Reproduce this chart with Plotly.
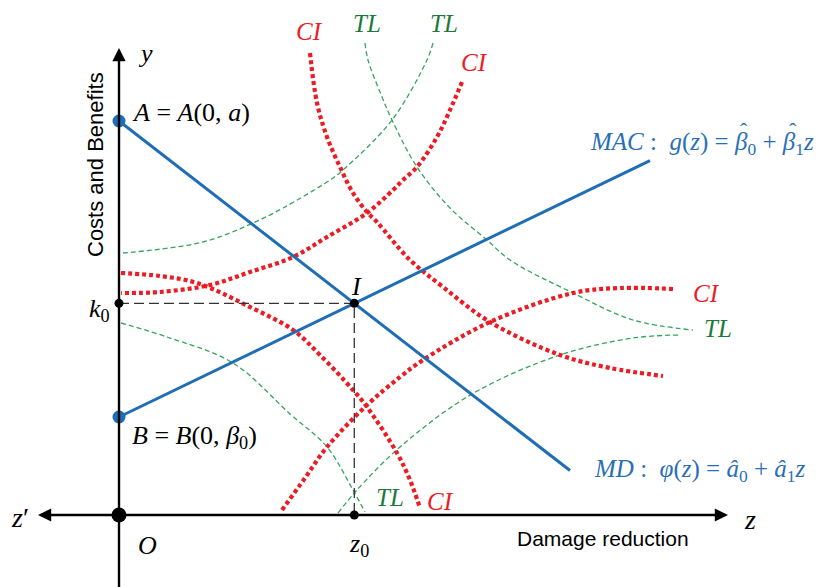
import plotly.graph_objects as go

# ---- data (diagram units, origin O at (0,0)) ----
a0, a1 = 394.0, -0.775      # MD: phi(z) = a0 + a1 z
b0, b1 = 98.0, 0.483        # MAC: g(z) = b0 + b1 z
md_z_end = 451.0
mac_z_end = 531.0

ci_1_z = [191, 198, 208, 221, 234, 248, 258, 290, 324, 371, 441, 491, 544]
ci_1_y = [462, 412, 378, 348, 322, 303, 293, 256, 228, 193, 160, 147, 139]
ci_2_z = [343, 331, 318, 298, 284, 274, 248, 208, 174, 131, 91, 41, 2]
ci_2_y = [433, 405, 378, 348, 335, 325, 302, 278, 258, 243, 230, 223, 222]
ci_3_z = [2, 41, 78, 131, 174, 201, 234, 248, 278, 291, 301]
ci_3_y = [242, 239, 232, 208, 185, 160, 125, 108, 62, 35, 7]
ci_4_z = [163, 186, 208, 248, 281, 304, 371, 454, 501, 554]
ci_4_y = [5, 37, 68, 110, 138, 155, 193, 222, 227, 226]

tl_1_z = [246, 249, 261, 273, 298, 331, 368, 391, 454, 514, 574]
tl_1_y = [472, 455, 423, 395, 348, 307, 275, 255, 222, 195, 185]
tl_2_z = [314, 308, 273, 224, 211, 164, 134, 84, 4]
tl_2_y = [472, 455, 395, 345, 335, 307, 292, 273, 262]
tl_3_z = [2, 48, 114, 171, 208, 234, 246]
tl_3_y = [192, 178, 152, 101, 68, 25, 3]
tl_4_z = [219, 238, 281, 353, 441, 514, 561]
tl_4_y = [2, 25, 68, 121, 160, 177, 180]

y_axis_top, y_axis_bottom = 467, -80
x_axis_right, x_axis_left = 609, -81

# ---- styles ----
BLUE = "#1f6db5"
BLUE_TXT = "#2a6fb5"
RED = "#ec1c24"
GREEN = "#35a45c"
GREEN_TXT = "#1b7a3a"
SERIF = "Liberation Serif, Times New Roman, serif"
SANS = "Liberation Sans, Arial, sans-serif"
SHIFT = 8  # page offset compensation

fig = go.Figure()

def curve(zs, ys, color, width, dash):
    fig.add_trace(go.Scatter(x=zs, y=ys, mode="lines",
                             line=dict(color=color, width=width, dash=dash, shape="spline", smoothing=1.0),
                             hoverinfo="skip", showlegend=False))

for zs, ys in [(tl_1_z, tl_1_y), (tl_2_z, tl_2_y), (tl_3_z, tl_3_y), (tl_4_z, tl_4_y)]:
    curve(zs, ys, GREEN, 1.3, "5px,3px")
for zs, ys in [(ci_1_z, ci_1_y), (ci_2_z, ci_2_y), (ci_3_z, ci_3_y), (ci_4_z, ci_4_y)]:
    curve(zs, ys, RED, 4.2, "4px,3px")

# intersection I
z0 = (a0 - b0) / (b1 - a1)
k0 = a0 + a1 * z0

# guide dashed lines
fig.add_trace(go.Scatter(x=[0, z0, z0], y=[k0, k0, 0], mode="lines",
                         line=dict(color="#333333", width=1.3, dash="10px,5px"),
                         hoverinfo="skip", showlegend=False))

# MD and MAC lines
fig.add_trace(go.Scatter(x=[0, md_z_end], y=[a0, a0 + a1 * md_z_end], mode="lines",
                         line=dict(color=BLUE, width=3), hoverinfo="skip", showlegend=False))
fig.add_trace(go.Scatter(x=[0, mac_z_end], y=[b0, b0 + b1 * mac_z_end], mode="lines",
                         line=dict(color=BLUE, width=3), hoverinfo="skip", showlegend=False))

# axes with arrows
for (tx, ty) in [(0, y_axis_top), (x_axis_right, 0), (x_axis_left, 0)]:
    fig.add_annotation(x=tx, y=ty, ax=0, ay=0, xref="x", yref="y", axref="x", ayref="y",
                       showarrow=True, arrowhead=2, arrowsize=1.1, arrowwidth=2.4,
                       arrowcolor="black", text="")
fig.add_trace(go.Scatter(x=[0, 0], y=[y_axis_bottom, 0], mode="lines",
                         line=dict(color="black", width=2.4), hoverinfo="skip", showlegend=False))

# points
fig.add_trace(go.Scatter(x=[0, 0], y=[a0, b0], mode="markers",
                         marker=dict(color=BLUE, size=13), hoverinfo="skip", showlegend=False))
fig.add_trace(go.Scatter(x=[0, z0, z0], y=[k0, k0, 0], mode="markers",
                         marker=dict(color="black", size=9), hoverinfo="skip", showlegend=False))
fig.add_trace(go.Scatter(x=[0], y=[0], mode="markers",
                         marker=dict(color="black", size=15), hoverinfo="skip", showlegend=False))

def txt(x, y, s, size=22, color="black", family=SERIF, xanchor="center", angle=0):
    fig.add_annotation(x=x, y=y, xref="x", yref="y", text=s, showarrow=False,
                       font=dict(family=family, size=size, color=color),
                       xanchor=xanchor, yanchor="middle", textangle=angle)

txt(26, 462, "<i>y</i>", 26)
txt(11, 403, "<i>A</i> = <i>A</i>(0, <i>a</i>)", 26, xanchor="left")
txt(11, 78, "<i>B</i> = <i>B</i>(0, <i>β</i><sub>0</sub>)", 26, xanchor="left")
txt(237, 229, "<i>I</i>", 26)
txt(-7, 205, "<i>k</i><sub>0</sub>", 26, xanchor="right")
txt(240, -30, "<i>z</i><sub>0</sub>", 26)
txt(28, -30, "<i>O</i>", 26)
txt(-99, -2, "<i>z</i>′", 28)
txt(631, -4, "<i>z</i>", 28)
txt(484, -23, "Damage reduction", 21, family=SANS)
txt(-24, 350, "Costs and Benefits", 22, family=SANS, angle=-90)
txt(469, 372, "<i>MAC</i> :  <i>g</i>(<i>z</i>) = <i>β</i><sub>0</sub> + <i>β</i><sub>1</sub><i>z</i>",
    25, color=BLUE_TXT, xanchor="left")
# hats over the two betas
txt(625, 385, "ˆ", 22, color=BLUE_TXT)
txt(674, 385, "ˆ", 22, color=BLUE_TXT)
txt(473, 45, "<i>MD</i> :  <i>φ</i>(<i>z</i>) = <i>â</i><sub>0</sub> + <i>â</i><sub>1</sub><i>z</i>", 25,
    color=BLUE_TXT, xanchor="left")

for (x, y) in [(190, 484), (355, 453), (587, 222), (321, 14)]:
    txt(x, y, "<i>CI</i>", 25, color=RED)
for (x, y) in [(248, 492), (325, 492), (599, 187), (271, 18)]:
    txt(x, y, "<i>TL</i>", 25, color=GREEN_TXT)

fig.update_layout(width=826, height=587, margin=dict(l=0, r=0, t=0, b=0),
                  paper_bgcolor="white", plot_bgcolor="white",
                  xaxis=dict(range=[-119 + SHIFT, 707 + SHIFT], visible=False, fixedrange=True),
                  yaxis=dict(range=[-72 - SHIFT, 515 - SHIFT], visible=False, fixedrange=True),
                  showlegend=False)

fig.write_html("out.html")
